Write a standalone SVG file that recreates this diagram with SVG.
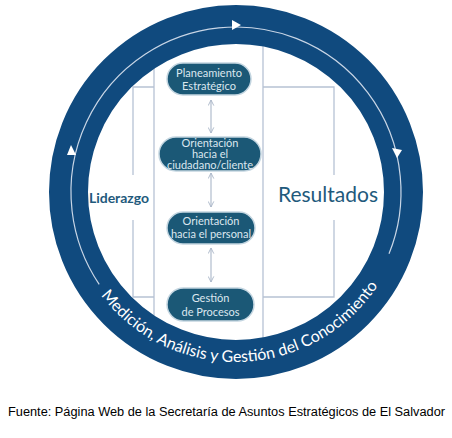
<svg xmlns="http://www.w3.org/2000/svg" width="452" height="438" viewBox="0 0 452 438">
  <style>
    .guide { fill: none; stroke: #b6c2d4; stroke-width: 1.3; }
    .arr { fill: none; stroke: #aab6c8; stroke-width: 1.1; }
    .node rect { fill: #1b5876; stroke: #c3d5e0; stroke-width: 1.5; }
    .node text { font-family: Lato, "Open Sans", sans-serif; fill: #dbe7ef; text-anchor: middle; font-size: 11px; }
    .side { font-family: Lato, "Open Sans", sans-serif; fill: #1f5a7c; text-anchor: middle; }
  </style>
  <defs>
    <marker id="chev" viewBox="0 0 10 10" refX="9" refY="5" markerWidth="7" markerHeight="7" orient="auto-start-reverse" markerUnits="userSpaceOnUse">
      <path d="M1,1 L9,5 L1,9" fill="none" stroke="#aab6c8" stroke-width="1.3"/>
    </marker>
    <path id="tp" d="M 73.4,241.7 A 170 170 0 0 0 401.6,230.2"/>
  </defs>
  <rect width="452" height="438" fill="#ffffff"/>

  <g id="frame">
    <line class="guide" x1="154" y1="40" x2="154" y2="350"/>
    <line class="guide" x1="263" y1="40" x2="263" y2="350"/>
  </g>

  <g id="connectors">
    <polyline class="guide" points="154,87 133,87 133,175"/>
    <polyline class="guide" points="133,220 133,297 154,297"/>
    <polyline class="guide" points="263,87 334,87 334,175"/>
    <polyline class="guide" points="334,220 334,297 263,297"/>
    <line class="arr" x1="211" y1="100" x2="211" y2="133" marker-start="url(#chev)" marker-end="url(#chev)"/>
    <line class="arr" x1="211" y1="173" x2="211" y2="207" marker-start="url(#chev)" marker-end="url(#chev)"/>
    <line class="arr" x1="211" y1="248" x2="211" y2="282" marker-start="url(#chev)" marker-end="url(#chev)"/>
  </g>

  <g id="ring">
    <circle cx="236" cy="192" r="167.5" fill="none" stroke="#104a7e" stroke-width="39"/>
    <path d="M 99.2,284.3 A 165 165 0 1 1 389,253.8" fill="none" stroke="#c9d6e6" stroke-width="1.2"/>
    <polygon points="241,25 232,20 232,30" fill="#ffffff"/>
    <polygon points="397,158 392,148 402,150" fill="#ffffff"/>
    <polygon points="71,145 67,155 76,155" fill="#ffffff"/>
    <text font-family="Lato, 'Open Sans', sans-serif" font-size="16" fill="#ffffff"><textPath href="#tp" startOffset="50%" text-anchor="middle">Medición, Análisis y Gestión del Conocimiento</textPath></text>
  </g>

  <g id="liderazgo">
    <text class="side" x="119" y="203" font-size="14" font-weight="bold">Liderazgo</text>
  </g>
  <g id="resultados">
    <text class="side" x="328" y="202" font-size="21">Resultados</text>
  </g>

  <g id="n1" class="node">
    <rect x="167" y="63" width="84" height="32" rx="16"/>
    <text x="209" y="76.5">Planeamiento</text>
    <text x="209" y="90">Estratégico</text>
  </g>
  <g id="n2" class="node">
    <rect x="159" y="137" width="102" height="34" rx="17"/>
    <text x="210" y="146.5" font-size="10">Orientación</text>
    <text x="210" y="157.5" font-size="10">hacia el</text>
    <text x="210" y="168.5" font-size="10">ciudadano/cliente</text>
  </g>
  <g id="n3" class="node">
    <rect x="167" y="212" width="88" height="32" rx="16"/>
    <text x="211" y="224.5">Orientación</text>
    <text x="211" y="238">hacia el personal</text>
  </g>
  <g id="n4" class="node">
    <rect x="167" y="288" width="87" height="33" rx="16.5"/>
    <text x="210.5" y="301.5">Gestión</text>
    <text x="210.5" y="315.5">de Procesos</text>
  </g>

  <g id="caption">
    <text x="8" y="416" font-family="'Liberation Sans', Arial, sans-serif" font-size="12" fill="#000000" textLength="437" lengthAdjust="spacingAndGlyphs">Fuente: Página Web de la Secretaría de Asuntos Estratégicos de El Salvador</text>
  </g>
</svg>
